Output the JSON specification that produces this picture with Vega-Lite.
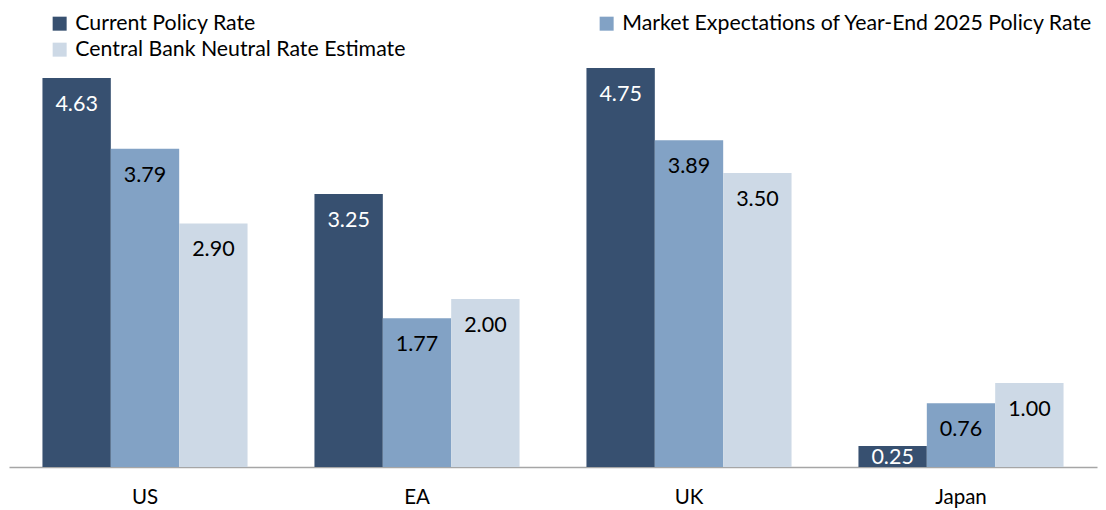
{
  "$schema": "https://vega.github.io/schema/vega-lite/v6.json",
  "width": 1088,
  "height": 462,
  "padding": {"left": 9, "top": 5, "right": 9, "bottom": 0},
  "background": "white",
  "config": {"view": {"stroke": null}, "font": "Lato"},
  "data": {"values": [
    {"country": "US", "series": "Current Policy Rate", "value": 4.63},
    {"country": "US", "series": "Market Expectations of Year-End 2025 Policy Rate", "value": 3.79},
    {"country": "US", "series": "Central Bank Neutral Rate Estimate", "value": 2.90},
    {"country": "EA", "series": "Current Policy Rate", "value": 3.25},
    {"country": "EA", "series": "Market Expectations of Year-End 2025 Policy Rate", "value": 1.77},
    {"country": "EA", "series": "Central Bank Neutral Rate Estimate", "value": 2.00},
    {"country": "UK", "series": "Current Policy Rate", "value": 4.75},
    {"country": "UK", "series": "Market Expectations of Year-End 2025 Policy Rate", "value": 3.89},
    {"country": "UK", "series": "Central Bank Neutral Rate Estimate", "value": 3.50},
    {"country": "Japan", "series": "Current Policy Rate", "value": 0.25},
    {"country": "Japan", "series": "Market Expectations of Year-End 2025 Policy Rate", "value": 0.76},
    {"country": "Japan", "series": "Central Bank Neutral Rate Estimate", "value": 1.00}
  ]},
  "encoding": {
    "x": {
      "field": "country", "type": "nominal", "sort": ["US", "EA", "UK", "Japan"],
      "scale": {"paddingInner": 0.246, "paddingOuter": 0.123},
      "axis": {"title": null, "labelAngle": 0, "ticks": false, "labelFontSize": 20.5, "labelColor": "#000000", "labelPadding": 20, "domainColor": "#a6a6a6", "domainWidth": 1.5, "labelFont": "Lato"}
    },
    "xOffset": {
      "field": "series", "type": "nominal",
      "sort": ["Current Policy Rate", "Market Expectations of Year-End 2025 Policy Rate", "Central Bank Neutral Rate Estimate"],
      "scale": {"paddingInner": 0, "paddingOuter": 0}
    },
    "y": {
      "field": "value", "type": "quantitative",
      "scale": {"domain": [0, 5.5], "nice": false},
      "axis": null
    }
  },
  "layer": [
    {
      "mark": {"type": "bar"},
      "encoding": {
        "color": {
          "field": "series", "type": "nominal",
          "sort": ["Current Policy Rate", "Market Expectations of Year-End 2025 Policy Rate", "Central Bank Neutral Rate Estimate"],
          "scale": {"domain": ["Current Policy Rate", "Market Expectations of Year-End 2025 Policy Rate", "Central Bank Neutral Rate Estimate"], "range": ["#375070", "#82a2c5", "#cdd9e6"]},
          "legend": {
            "title": null, "orient": "none", "legendX": 40, "legendY": 8,
            "direction": "horizontal", "columns": 2, "columnPadding": 190, "rowPadding": 4,
            "symbolType": "square", "symbolSize": 196, "symbolStrokeWidth": 0, "symbolOffset": 0,
            "labelFontSize": 21.3, "labelColor": "#000000", "labelOffset": 5, "labelLimit": 700, "padding": 0
          }
        }
      }
    },
    {
      "mark": {"type": "text", "baseline": "middle", "fontSize": 21.5, "dy": {"expr": "datum.value < 0.5 ? 12 : 27"}},
      "encoding": {
        "text": {"field": "value", "type": "quantitative", "format": ".2f"},
        "color": {
          "condition": {"test": "datum.series === 'Current Policy Rate'", "value": "#ffffff"},
          "value": "#000000"
        }
      }
    }
  ]
}
